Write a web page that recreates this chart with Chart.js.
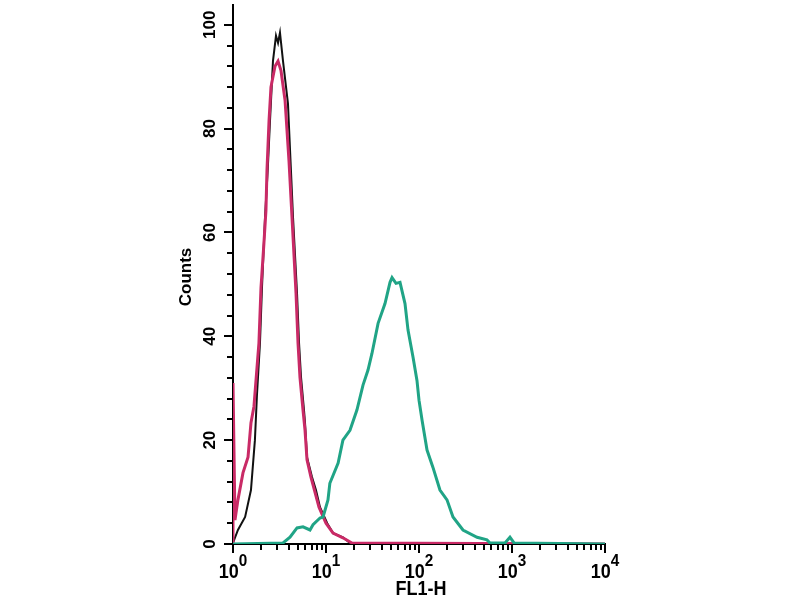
<!DOCTYPE html>
<html>
<head>
<meta charset="utf-8">
<script src="https://cdn.jsdelivr.net/npm/chart.js@4.4.0/dist/chart.umd.min.js"></script>
<style>
  html, body { margin: 0; padding: 0; background: #fff; }
</style>
</head>
<body>
<canvas id="histo" width="800" height="600"></canvas>
<script>
// unstained control (black)
const unstainedFL1 = [1.00, 1.13, 1.35, 1.56, 1.72, 1.81, 1.95, 2.05, 2.21, 2.36, 2.50, 2.69, 2.90, 3.05, 3.20, 3.45, 3.90, 4.20, 4.42, 4.88, 5.13, 5.39, 5.80, 5.95, 6.25, 7.07, 7.80, 8.62, 10.3, 11.9, 15.2, 18.1, 10000];
const unstainedCounts = [0.2, 2.7, 5.2, 10.4, 20.0, 28.7, 38.7, 49.4, 62.9, 71.9, 81.5, 93.0, 97.9, 96.5, 98.5, 93.0, 84.8, 71.9, 62.9, 48.3, 38.7, 32.1, 25.8, 23.3, 16.7, 12.9, 10.4, 7.1, 4.0, 2.1, 1.3, 0.2, 0];

// isotype control (pink)
const isotypeFL1 = [1.00, 1.00, 1.05, 1.13, 1.28, 1.45, 1.56, 1.68, 1.90, 2.00, 2.15, 2.26, 2.32, 2.44, 2.56, 2.83, 3.05, 3.28, 3.63, 4.00, 4.31, 4.76, 5.00, 5.25, 5.66, 5.95, 6.25, 6.89, 7.61, 8.41, 10.0, 11.9, 15.2, 19.0, 10000];
const isotypeCounts = [0, 31.0, 4.6, 8.5, 13.7, 16.7, 23.3, 26.5, 38.7, 49.4, 57.9, 64.2, 72.0, 81.5, 88.0, 92.0, 93.0, 91.2, 85.4, 73.8, 62.9, 48.3, 38.7, 32.1, 25.8, 21.9, 16.2, 12.9, 10.0, 7.1, 4.0, 2.1, 1.2, 0.2, 0];

// stained cells (green)
const stainedFL1 = [1.00, 3.45, 4.10, 4.88, 5.66, 6.73, 7.25, 8.62, 9.29, 10.5, 11.0, 13.5, 15.2, 18.1, 21.5, 25.0, 28.3, 31.2, 36.3, 43.1, 48.8, 51.3, 56.6, 62.5, 70.7, 76.2, 86.2, 95.1, 100, 108, 122, 141, 168, 200, 232, 297, 421, 538, 580, 841, 951, 1052, 10000];
const stainedCounts = [0, 0.2, 1.3, 3.1, 3.3, 2.7, 3.7, 5.0, 5.2, 8.5, 11.7, 15.6, 20.0, 21.9, 25.8, 30.6, 33.5, 36.7, 42.5, 46.3, 50.4, 51.3, 50.2, 50.4, 46.3, 41.2, 36.0, 31.5, 27.7, 23.8, 18.1, 14.8, 10.4, 8.5, 5.2, 2.7, 1.3, 0.8, 0.2, 0.2, 1.3, 0.2, 0];

// axis ticks
const yTickLabels = [0, 20, 40, 60, 80, 100];
const yMinorStep = 4;
const xDecades = [0, 1, 2, 3, 4];

function pairs(xs, ys) {
  return xs.map((v, i) => ({ x: v, y: ys[i] }));
}

// axes are drawn by hand so the ticks and the 10^n labels look like the cytometer printout
const axisPainter = {
  id: 'axisPainter',
  beforeDatasetsDraw(chart) {
    const { ctx, scales: { x, y } } = chart;
    const x0 = x.getPixelForValue(1);
    const x1 = x.getPixelForValue(10000);
    const y0 = y.getPixelForValue(0);
    ctx.save();
    ctx.strokeStyle = '#000';
    ctx.lineWidth = 2;
    ctx.beginPath();
    ctx.moveTo(x0, y.getPixelForValue(y.max));
    ctx.lineTo(x0, y0);
    ctx.lineTo(x1 + 1, y0);
    // y ticks
    for (let v = 0; v <= 100; v += yMinorStep) {
      const py = Math.round(y.getPixelForValue(v));
      const len = v % 20 === 0 ? 9 : 6;
      ctx.moveTo(x0 - len, py);
      ctx.lineTo(x0, py);
    }
    // x ticks
    xDecades.forEach(d => {
      for (let m = 1; m <= 9; m++) {
        const v = m * Math.pow(10, d);
        if (v > 10000) break;
        const px = Math.round(x.getPixelForValue(v));
        const len = m === 1 ? 9 : 6;
        ctx.moveTo(px, y0);
        ctx.lineTo(px, y0 + len);
      }
    });
    ctx.stroke();
    ctx.restore();
  },
  afterDraw(chart) {
    const { ctx, scales: { x, y } } = chart;
    const x0 = x.getPixelForValue(1);
    ctx.save();
    ctx.fillStyle = '#000';
    ctx.textAlign = 'center';
    ctx.textBaseline = 'middle';

    // y labels, turned
    ctx.font = 'bold 17px "Liberation Sans", Arial, sans-serif';
    yTickLabels.forEach(v => {
      ctx.save();
      ctx.translate(x0 - 23, y.getPixelForValue(v));
      ctx.rotate(-Math.PI / 2);
      ctx.fillText(String(v), 0, 0);
      ctx.restore();
    });
    ctx.save();
    ctx.translate(186, 277);
    ctx.rotate(-Math.PI / 2);
    ctx.fillText('Counts', 0, 0);
    ctx.restore();

    // x labels 10^n
    ctx.textBaseline = 'alphabetic';
    ctx.textAlign = 'left';
    const baseFont = 'bold 20px "Liberation Sans", Arial, sans-serif';
    const expFont = 'bold 17px "Liberation Sans", Arial, sans-serif';
    xDecades.forEach(d => {
      const px = x.getPixelForValue(Math.pow(10, d));
      ctx.font = baseFont;
      const wb = ctx.measureText('10').width * 0.9;
      ctx.font = expFont;
      const we = ctx.measureText(String(d)).width * 0.9;
      const start = px - (wb + we) / 2;
      ctx.save();
      ctx.translate(start, 0);
      ctx.scale(0.9, 1);
      ctx.font = baseFont;
      ctx.fillText('10', 0, 578);
      ctx.font = expFont;
      ctx.fillText(String(d), wb / 0.9, 566);
      ctx.restore();
    });

    ctx.save();
    ctx.translate(421, 0);
    ctx.scale(0.9, 1);
    ctx.textAlign = 'center';
    ctx.font = baseFont;
    ctx.fillText('FL1-H', 0, 595);
    ctx.restore();
    ctx.restore();
  }
};

new Chart(document.getElementById('histo'), {
  type: 'line',
  data: {
    datasets: [
      {
        label: 'Stained',
        data: pairs(stainedFL1, stainedCounts),
        borderColor: 'rgb(32, 164, 134)',
        borderWidth: 3
      },
      {
        label: 'Isotype',
        data: pairs(isotypeFL1, isotypeCounts),
        borderColor: 'rgb(201, 42, 102)',
        borderWidth: 3
      },
      {
        label: 'Unstained',
        data: pairs(unstainedFL1, unstainedCounts),
        borderColor: '#111',
        borderWidth: 2
      }
    ]
  },
  options: {
    responsive: false,
    animation: false,
    devicePixelRatio: 1,
    layout: { padding: { left: 233, right: 195, top: 4, bottom: 56 } },
    elements: {
      point: { radius: 0 },
      line: { tension: 0, fill: false }
    },
    plugins: {
      legend: { display: false },
      tooltip: { enabled: false }
    },
    scales: {
      x: { type: 'logarithmic', min: 1, max: 10000, display: false },
      y: { type: 'linear', min: 0, max: 104, display: false }
    }
  },
  plugins: [axisPainter]
});
</script>
</body>
</html>
